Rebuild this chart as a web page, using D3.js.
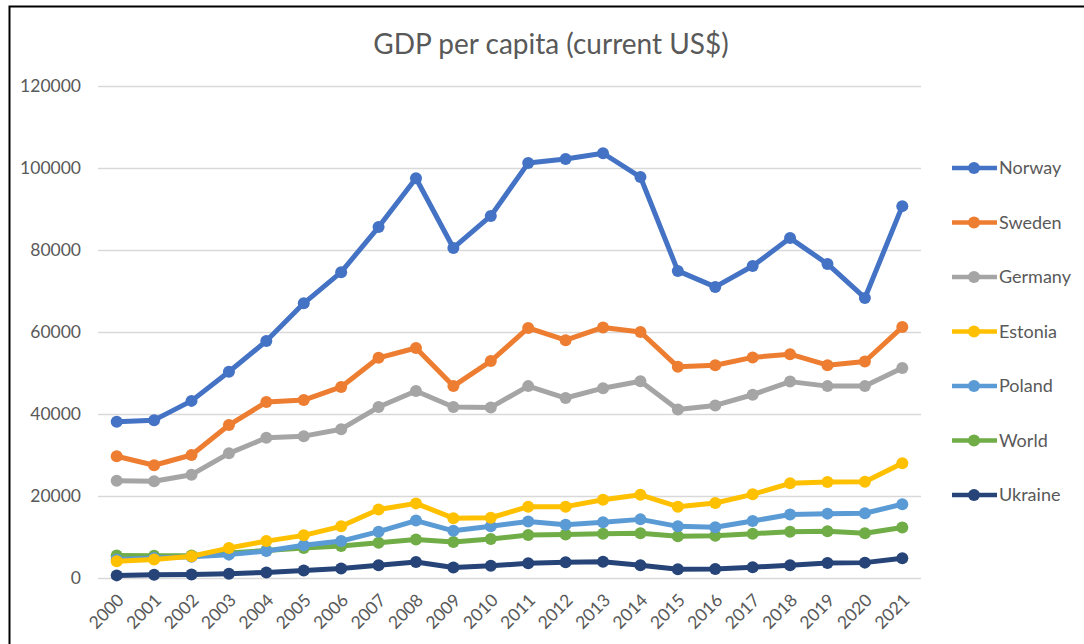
<!DOCTYPE html>
<html>
<head>
<meta charset="utf-8">
<script src="https://cdn.jsdelivr.net/npm/d3@7"></script>
<style>
  body { margin: 0; background: #fff; }
  svg { display: block; font-family: Lato, "Open Sans", sans-serif; }
</style>
</head>
<body>
<div id="chart"></div>
<script>
var years = ["2000","2001","2002","2003","2004","2005","2006","2007","2008","2009","2010",
             "2011","2012","2013","2014","2015","2016","2017","2018","2019","2020","2021"];
var countries = ["Norway", "Sweden", "Germany", "Estonia", "Poland", "World", "Ukraine"];
var colors = ["#4472C4", "#ED7D31", "#A5A5A5", "#FFC000", "#5B9BD5", "#70AD47", "#264478"];
var yTicks = [0, 20000, 40000, 60000, 80000, 100000, 120000];

var norway  = [38100, 38500, 43200, 50300, 57800, 67000, 74600, 85600, 97500, 80500, 88300,
               101200, 102200, 103600, 97800, 74900, 71000, 76100, 82900, 76600, 68300, 90700];
var sweden  = [29700, 27500, 30000, 37300, 42900, 43400, 46600, 53700, 56100, 46800, 52900,
               61000, 58000, 61100, 60000, 51500, 51900, 53800, 54600, 51900, 52800, 61200];
var germany = [23700, 23600, 25200, 30400, 34200, 34600, 36300, 41700, 45600, 41700, 41600,
               46800, 43900, 46300, 48000, 41100, 42100, 44700, 47900, 46800, 46800, 51200];
var estonia = [4100, 4500, 5300, 7300, 9000, 10400, 12600, 16700, 18200, 14600, 14700,
               17400, 17400, 19100, 20300, 17400, 18300, 20400, 23100, 23400, 23500, 28000];
var poland  = [4500, 4900, 5200, 5700, 6600, 8000, 9000, 11300, 14000, 11500, 12600,
               13800, 13000, 13600, 14300, 12600, 12400, 13900, 15500, 15700, 15800, 18000];
var world   = [5500, 5400, 5500, 6100, 6700, 7300, 7800, 8600, 9400, 8800, 9500,
               10500, 10600, 10800, 10900, 10200, 10300, 10800, 11300, 11400, 10900, 12300];
var ukraine = [640, 780, 880, 1050, 1370, 1830, 2300, 3100, 3900, 2550, 2970,
               3570, 3860, 3970, 3100, 2120, 2190, 2640, 3100, 3660, 3750, 4830];

var seriesValues = [norway, sweden, germany, estonia, poland, world, ukraine];

var width = 1084, height = 644;
var margin = { top: 86, left: 98, right: 163, bottom: 66 };
var plotW = width - margin.left - margin.right,
    plotH = height - margin.top - margin.bottom;

var svg = d3.select("#chart").append("svg")
    .attr("width", width)
    .attr("height", height);

// outer chart frame
svg.append("rect")
    .attr("x", 9.5).attr("y", 6.5)
    .attr("width", width + 20).attr("height", height + 20)
    .attr("fill", "#fff")
    .attr("stroke", "#000")
    .attr("stroke-width", 2);

svg.append("text")
    .attr("x", 551)
    .attr("y", 54)
    .attr("text-anchor", "middle")
    .attr("font-size", 28)
    .attr("fill", "#595959")
    .text("GDP per capita (current US$)");

var x = d3.scaleBand()
    .domain(years)
    .range([0, plotW]);

var y = d3.scaleLinear()
    .domain([0, 120000])
    .range([plotH, 0]);

var g = svg.append("g")
    .attr("transform", "translate(" + margin.left + "," + margin.top + ")");

// gridlines + y labels
var yAxis = g.append("g")
    .call(d3.axisLeft(y).tickValues(yTicks).tickSize(-plotW).tickPadding(17).tickFormat(d3.format("d")));
yAxis.select(".domain").remove();
yAxis.selectAll("line").attr("stroke", "#D9D9D9").attr("stroke-width", 1.3);
yAxis.selectAll("text").attr("fill", "#595959").attr("font-size", 17.5)
    .attr("font-family", "Lato, sans-serif");

// x labels
var xAxis = g.append("g")
    .attr("transform", "translate(0," + plotH + ")")
    .call(d3.axisBottom(x).tickSize(0).tickPadding(0));
xAxis.select(".domain").remove();
xAxis.selectAll("text")
    .attr("fill", "#595959")
    .attr("font-size", 17.5)
    .attr("font-family", "Lato, sans-serif")
    .attr("text-anchor", "end")
    .attr("dy", "0.35em")
    .attr("transform", "translate(4,19) rotate(-45)");

var line = d3.line()
    .x(function (d, i) { return x(years[i]) + x.bandwidth() / 2; })
    .y(function (d) { return y(d); });

// draw bottom series first so Norway sits on top
for (var s = countries.length - 1; s >= 0; s--) {
    var sg = g.append("g");
    sg.append("path")
        .datum(seriesValues[s])
        .attr("d", line)
        .attr("fill", "none")
        .attr("stroke", colors[s])
        .attr("stroke-width", 5)
        .attr("stroke-linejoin", "round");
    sg.selectAll("circle")
        .data(seriesValues[s])
        .enter().append("circle")
        .attr("cx", function (d, i) { return x(years[i]) + x.bandwidth() / 2; })
        .attr("cy", function (d) { return y(d); })
        .attr("r", 6)
        .attr("fill", colors[s]);
}

// legend
var legend = svg.append("g")
    .attr("transform", "translate(952,168)");
countries.forEach(function (c, i) {
    var lg = legend.append("g").attr("transform", "translate(0," + i * 54.5 + ")");
    lg.append("line")
        .attr("x1", 0).attr("x2", 45)
        .attr("stroke", colors[i])
        .attr("stroke-width", 4.5);
    lg.append("circle")
        .attr("cx", 22).attr("r", 6)
        .attr("fill", colors[i]);
    lg.append("text")
        .attr("x", 47)
        .attr("dy", "0.35em")
        .attr("font-size", 18)
        .attr("fill", "#595959")
        .text(c);
});
</script>
</body>
</html>
